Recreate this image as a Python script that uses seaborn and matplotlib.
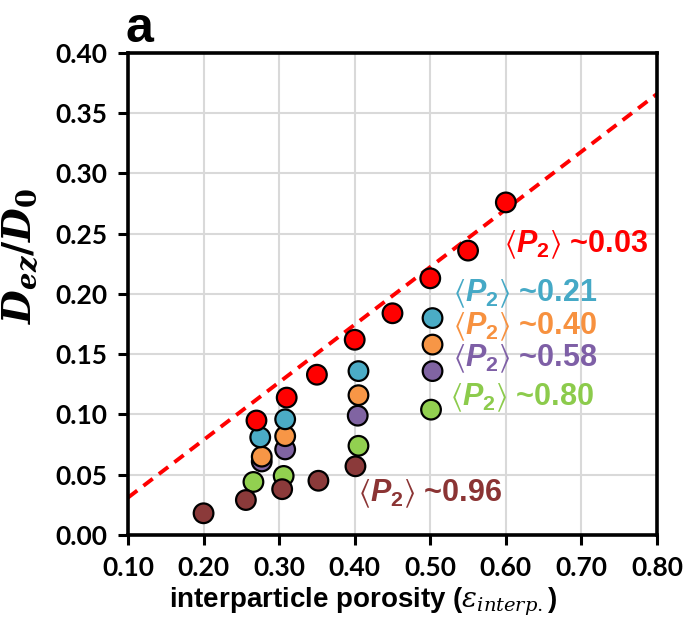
import matplotlib
matplotlib.use("Agg")
import matplotlib.pyplot as plt
import seaborn as sns
import pandas as pd

# ---- data ----
red_x = [0.27, 0.31, 0.35, 0.40, 0.45, 0.50, 0.55, 0.60]
red_y = [0.095, 0.114, 0.133, 0.162, 0.184, 0.213, 0.236, 0.276]
cyan_x = [0.275, 0.308, 0.405, 0.503]
cyan_y = [0.081, 0.096, 0.136, 0.180]
orange_x = [0.277, 0.308, 0.405, 0.503]
orange_y = [0.065, 0.082, 0.116, 0.158]
purple_x = [0.277, 0.308, 0.404, 0.503]
purple_y = [0.061, 0.071, 0.099, 0.136]
green_x = [0.266, 0.306, 0.405, 0.501]
green_y = [0.044, 0.049, 0.074, 0.104]
brown_x = [0.20, 0.256, 0.304, 0.352, 0.401]
brown_y = [0.018, 0.029, 0.038, 0.045, 0.057]
fit_x = [0.10, 0.80]
fit_y = [0.031, 0.366]

series_names = ["0.58", "0.40", "0.21", "0.80", "0.96", "0.03"]
series_colors = ["#8064A2", "#F79646", "#4BACC6", "#92D050", "#8B3A3A", "#FF0000"]
label_colors = ["#7E5FA6", "#F7913F", "#45A9C6", "#8CCB4C", "#8B3434", "#FF0000"]
label_x = [0.530, 0.530, 0.530, 0.526, 0.404, 0.597]
label_y = [0.146, 0.173, 0.200, 0.114, 0.034, 0.241]

x_ticks = [0.10, 0.20, 0.30, 0.40, 0.50, 0.60, 0.70, 0.80]
y_ticks = [0.00, 0.05, 0.10, 0.15, 0.20, 0.25, 0.30, 0.35, 0.40]

sns.set_style("white")
plt.rcParams["text.color"] = "black"
plt.rcParams["axes.labelcolor"] = "black"
plt.rcParams["xtick.color"] = "black"
plt.rcParams["ytick.color"] = "black"
plt.rcParams["mathtext.fontset"] = "custom"
plt.rcParams["mathtext.it"] = "Liberation Sans:italic:bold"
plt.rcParams["mathtext.rm"] = "Liberation Sans:bold"
plt.rcParams["mathtext.bf"] = "Liberation Sans:bold"
plt.rcParams["mathtext.fallback"] = "stixsans"

all_x = [purple_x, orange_x, cyan_x, green_x, brown_x, red_x]
all_y = [purple_y, orange_y, cyan_y, green_y, brown_y, red_y]
rows = []
for name, xs, ys in zip(series_names, all_x, all_y):
    for xv, yv in zip(xs, ys):
        rows.append({"x": xv, "y": yv, "P2": name})
df = pd.DataFrame(rows)
fit_df = pd.DataFrame({"x": fit_x, "y": fit_y})

fig = plt.figure(figsize=(6.87, 6.34), dpi=100)
ax = fig.add_axes([0.1863, 0.1562, 0.7700, 0.7602])

ax.grid(True, color="#D9D9D9", linewidth=1.5, zorder=0)
ax.set_axisbelow(True)

sns.lineplot(data=fit_df, x="x", y="y", ax=ax, color="#FF0000",
             linewidth=2.8, linestyle=(0, (3, 2)), zorder=2)
sns.scatterplot(data=df, x="x", y="y", hue="P2", hue_order=series_names,
                palette=dict(zip(series_names, series_colors)), ax=ax,
                s=200, edgecolor="black", linewidth=1.6, legend=False, zorder=3)

for name, col, lx, ly in zip(series_names, label_colors, label_x, label_y):
    ax.text(lx, ly, r"$\langle P_{\mathit{2}}\rangle$ ~" + name, color=col, fontsize=22,
            fontweight="bold", family="Liberation Sans", va="center", ha="left",
            clip_on=False)

ax.set_xlim(0.10, 0.80)
ax.set_ylim(0.00, 0.40)
ax.set_xticks(x_ticks)
ax.set_yticks(y_ticks)
ax.set_xticklabels([f"{v:.2f}" for v in x_ticks])
ax.set_yticklabels([f"{v:.2f}" for v in y_ticks])
for lab in ax.get_xticklabels() + ax.get_yticklabels():
    lab.set_fontfamily("Lato")
    lab.set_fontweight("bold")
    lab.set_fontsize(19)
ax.tick_params(axis="both", direction="out", length=7, width=2.2, color="black",
               pad=8, bottom=True, left=True)

for sp in ax.spines.values():
    sp.set_visible(True)
    sp.set_color("black")
    sp.set_linewidth(2.6)

ax.set_xlabel(r"interparticle porosity ($\mathit{\varepsilon_{interp.}}$)",
              fontsize=20, fontweight="bold", family="Liberation Sans",
              math_fontfamily="dejavuserif")
ax.xaxis.set_label_coords(0.444, -0.105)
ax.set_ylabel(r"$\mathbfit{D}_{\mathbfit{ez}}\mathbf{/}\mathbfit{D}_{\mathbf{0}}$",
              fontsize=28, math_fontfamily="dejavuserif")
ax.yaxis.set_label_coords(-0.165, 0.58)

fig.text(0.183, 0.955, "a", fontsize=36, fontweight="bold",
         family="Liberation Sans", va="center", ha="left")

fig.savefig("out.png", dpi=100)
